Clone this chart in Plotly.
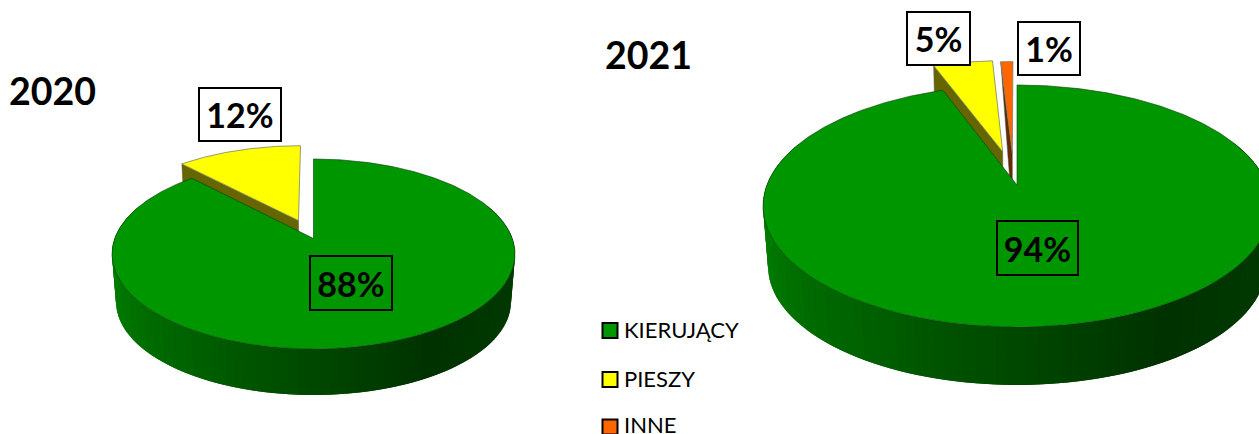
import numpy as np
import plotly.graph_objects as go

CATEGORIES = ["KIERUJĄCY", "PIESZY", "INNE"]
COLORS = ["#009600", "#ffff00", "#ff6600"]
WALL_COLORS = ["#007000", "#666600", "#662900"]
LABEL_FONT = "Lato"

YEARS = ["2020", "2021"]
VALUES_2020 = [88.0, 12.0, 0.0]
VALUES_2021 = [94.4, 4.65, 0.95]
LABELS_2020 = ["88%", "12%", None]
LABELS_2021 = ["94%", "5%", "1%"]

# label boxes: left, top, right, bottom
BOXES_2020 = [(310, 256, 392, 310), (199, 88, 281, 141), None]
BOXES_2021 = [(997, 221, 1078, 275), (907, 12, 970, 65), (1018, 22, 1080, 75)]

# perspective geometry of each pie
GEOM_2020 = dict(cx=313.5, ay=238.5, rx=201.5, up=79.5, down=110.5, depth=46, shrink=0.98,
                 offsets=[(0, 0), (-0.078, -0.2), (0, 0)])
GEOM_2021 = dict(cx=1017.0, ay=185.0, rx=254.0, up=100.0, down=142.0, depth=58, shrink=0.98,
                 offsets=[(0, 0), (-0.0602, -0.298), (-0.0197, -0.286)])

WALL_STOPS_T = [70, 100, 125, 150, 180, 215, 250, 290]
WALL_STOPS_G = [58, 58, 56, 50, 72, 100, 122, 128]


def make_proj(g):
    k = (g["down"] - g["up"]) / (g["down"] + g["up"])
    B = g["up"] * (1 + k)
    A = g["rx"] * np.sqrt(1 - k * k)

    def proj(u, v, lower=False):
        w = 1 - k * v
        s = g["shrink"] if lower else 1.0
        dy = (g["depth"] + g["down"] * (1 - s)) if lower else 0.0
        return g["cx"] + s * A * u / w, g["ay"] + dy + s * B * v / w

    return proj


def clock(deg):
    r = np.radians(deg)
    return np.sin(r), -np.cos(r)


fig = go.Figure()


def poly(xs, ys, fill, line=None, lw=0.6):
    fig.add_trace(go.Scatter(x=list(xs), y=list(ys), mode="lines", fill="toself", fillcolor=fill,
                             line=dict(color=line or fill, width=lw), hoverinfo="skip", showlegend=False))


def wedge(proj, a0, a1, off, lower=False):
    ts = np.linspace(a0, a1, max(int(abs(a1 - a0) * 2), 2))
    us, vs = clock(ts)
    ax, ay = proj(off[0], off[1], lower)
    ex, ey = proj(us + off[0], vs + off[1], lower)
    return np.r_[ax, ex, ax], np.r_[ay, ey, ay]


def draw_pie(values, g):
    proj = make_proj(g)
    total = sum(values)
    edges = np.cumsum([0] + list(values)) / total * 360
    # detached slices first (back), their cut faces, then the main slice over them
    for i in range(len(values) - 1, 0, -1):
        if values[i] <= 0:
            continue
        a0, a1 = edges[i], edges[i + 1]
        off = g["offsets"][i]
        u, v = clock(a0)
        cx, cy = proj(u + off[0], v + off[1])
        ax, ay = proj(off[0], off[1])
        lx, ly = proj(u + off[0], v + off[1], True)
        bx, by = proj(off[0], off[1], True)
        if values[i] < 2:
            poly([cx, ax, bx, cx], [cy, ay, by, cy], WALL_COLORS[i], "#555555", 0.5)
        else:
            poly([cx, ax, bx, lx, cx], [cy, ay, by, ly, cy], WALL_COLORS[i], "#555555", 0.5)
        x, y = wedge(proj, a0, a1, off)
        poly(x, y, COLORS[i], "#808060", 0.8)
    # outer wall of the main slice, in overlapping strips
    ts = np.arange(68, 292, 2.0)
    for t0, t1 in zip(ts[:-1], ts[1:]):
        mid = (t0 + t1) / 2
        tt = np.linspace(t0, min(t1 + 2, 292), 4)
        us, vs = clock(tt)
        xa, ya = proj(us, vs)
        xb, yb = proj(us, vs, True)
        green = int(np.interp(mid, WALL_STOPS_T, WALL_STOPS_G))
        col = f"rgb(0,{green},0)"
        poly(np.r_[xa, xb[::-1], xa[0]], np.r_[ya, yb[::-1], ya[0]], col, col, 0)
    x, y = wedge(proj, edges[0], edges[1], g["offsets"][0])
    poly(x, y, COLORS[0], "#0a3a0a", 0.6)


draw_pie(VALUES_2020, GEOM_2020)
draw_pie(VALUES_2021, GEOM_2021)

# legend swatches
SWATCH_Y = [330.5, 379.5, 427]
TEXT_Y = [329.5, 378.5, 424.5]
fig.add_trace(go.Scatter(x=[610] * 3, y=SWATCH_Y, mode="markers",
                         marker=dict(symbol="square", size=15, color=COLORS, line=dict(color="black", width=2)),
                         hoverinfo="skip", showlegend=False))

annotations = []
for name, yy in zip(CATEGORIES, TEXT_Y):
    annotations.append(dict(x=622, y=yy, text=name, showarrow=False, xanchor="left", yanchor="middle",
                            font=dict(family=LABEL_FONT, size=22, color="black")))
for title, tx, ty in zip(YEARS, [52.5, 648], [90, 54]):
    annotations.append(dict(x=tx, y=ty, text=f"<b>{title}</b>", showarrow=False, xanchor="center", yanchor="middle",
                            font=dict(family=LABEL_FONT, size=37.5, color="black")))
for labels, boxes in ((LABELS_2020, BOXES_2020), (LABELS_2021, BOXES_2021)):
    for lab, box in zip(labels, boxes):
        if lab is None:
            continue
        l, t, r, b = box
        annotations.append(dict(x=(l + r) / 2, y=(t + b) / 2, text=f"<b>{lab}</b>", showarrow=False,
                                xanchor="center", yanchor="middle", width=r - l - 2, height=b - t - 2,
                                borderpad=0, borderwidth=2, bordercolor="black",
                                bgcolor="white" if t < 150 else "rgba(0,0,0,0)",
                                font=dict(family=LABEL_FONT, size=34, color="black")))

fig.update_layout(width=1259, height=434, margin=dict(l=0, r=0, t=0, b=0), paper_bgcolor="white",
                  plot_bgcolor="white", showlegend=False, annotations=annotations,
                  xaxis=dict(range=[0, 1259], visible=False, fixedrange=True),
                  yaxis=dict(range=[434, 0], visible=False, fixedrange=True))
fig.write_html("out.html", config=dict(displayModeBar=False),
               post_script="document.body.style.margin='0';document.documentElement.style.overflow='hidden';")
